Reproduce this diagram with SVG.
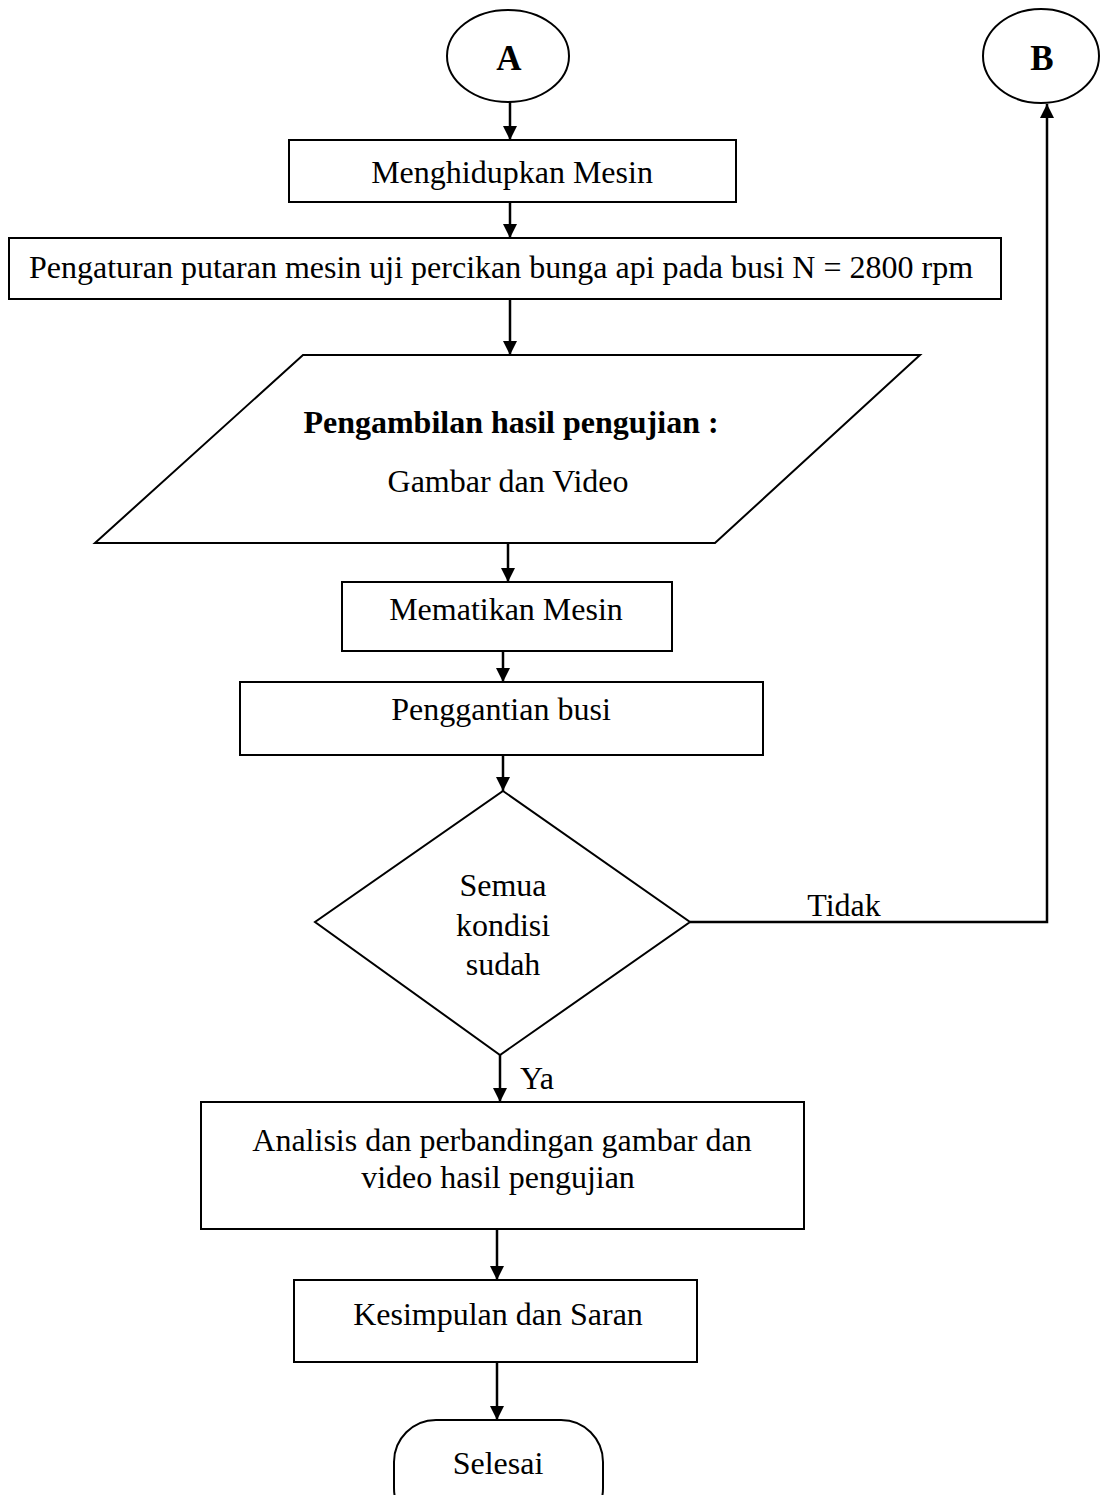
<svg xmlns="http://www.w3.org/2000/svg" width="1100" height="1495" viewBox="0 0 1100 1495">
<style>
.s{fill:#fff;stroke:#000;stroke-width:2}
.t{font-family:"Liberation Serif","Times New Roman",serif;font-size:32px;fill:#000;text-anchor:middle}
.b{font-weight:bold}
.c{fill:none;stroke:#000;stroke-width:2.5}
</style>
<defs>
<marker id="ah" markerUnits="userSpaceOnUse" markerWidth="14" markerHeight="14" refX="14" refY="7" orient="auto">
<path d="M0,0 L14,7 L0,14 z" fill="#000"/>
</marker>
</defs>
<rect width="1100" height="1495" fill="#fff"/>
<g id="connectors">
<line class="c" x1="510" y1="102" x2="510" y2="140" marker-end="url(#ah)"/>
<line class="c" x1="510" y1="202" x2="510" y2="238" marker-end="url(#ah)"/>
<line class="c" x1="510" y1="299" x2="510" y2="355" marker-end="url(#ah)"/>
<line class="c" x1="508" y1="543" x2="508" y2="582" marker-end="url(#ah)"/>
<line class="c" x1="503" y1="651" x2="503" y2="682" marker-end="url(#ah)"/>
<line class="c" x1="503" y1="755" x2="503" y2="791" marker-end="url(#ah)"/>
<line class="c" x1="500" y1="1055" x2="500" y2="1102" marker-end="url(#ah)"/>
<line class="c" x1="497" y1="1229" x2="497" y2="1280" marker-end="url(#ah)"/>
<line class="c" x1="497" y1="1362" x2="497" y2="1420" marker-end="url(#ah)"/>
<path class="c" d="M690,922 H1047 V104" marker-end="url(#ah)"/>
<text class="t" x="844" y="916">Tidak</text>
<text class="t" x="537" y="1089">Ya</text>
</g>
<g id="nodeA">
<ellipse class="s" cx="508" cy="56" rx="61" ry="46"/>
<text class="t b" x="509" y="70" style="font-size:35px">A</text>
</g>
<g id="nodeB">
<ellipse class="s" cx="1041" cy="56" rx="58" ry="47"/>
<text class="t b" x="1042" y="70" style="font-size:35px">B</text>
</g>
<g id="n1">
<rect class="s" x="289" y="140" width="447" height="62"/>
<text class="t" x="512" y="183">Menghidupkan Mesin</text>
</g>
<g id="n2">
<rect class="s" x="9" y="238" width="992" height="61"/>
<text class="t" x="501" y="278">Pengaturan putaran mesin uji percikan bunga api pada busi N = 2800 rpm</text>
</g>
<g id="n3">
<polygon class="s" points="303,355 920,355 715,543 95,543"/>
<text class="t b" x="511" y="433">Pengambilan hasil pengujian  :</text>
<text class="t" x="508" y="492">Gambar dan Video</text>
</g>
<g id="n4">
<rect class="s" x="342" y="582" width="330" height="69"/>
<text class="t" x="506" y="620">Mematikan Mesin</text>
</g>
<g id="n5">
<rect class="s" x="240" y="682" width="523" height="73"/>
<text class="t" x="501" y="720">Penggantian busi</text>
</g>
<g id="n6">
<polygon class="s" points="503,791 690,922 500,1055 315,922"/>
<text class="t" x="503" y="896">Semua</text>
<text class="t" x="503" y="936">kondisi</text>
<text class="t" x="503" y="975">sudah</text>
</g>
<g id="n7">
<rect class="s" x="201" y="1102" width="603" height="127"/>
<text class="t" x="502" y="1151">Analisis dan perbandingan gambar dan</text>
<text class="t" x="498" y="1188">video hasil pengujian</text>
</g>
<g id="n8">
<rect class="s" x="294" y="1280" width="403" height="82"/>
<text class="t" x="498" y="1325">Kesimpulan dan Saran</text>
</g>
<g id="n9">
<rect class="s" x="394" y="1420" width="209" height="110" rx="42" ry="42"/>
<text class="t" x="498" y="1474">Selesai</text>
</g>
</svg>
